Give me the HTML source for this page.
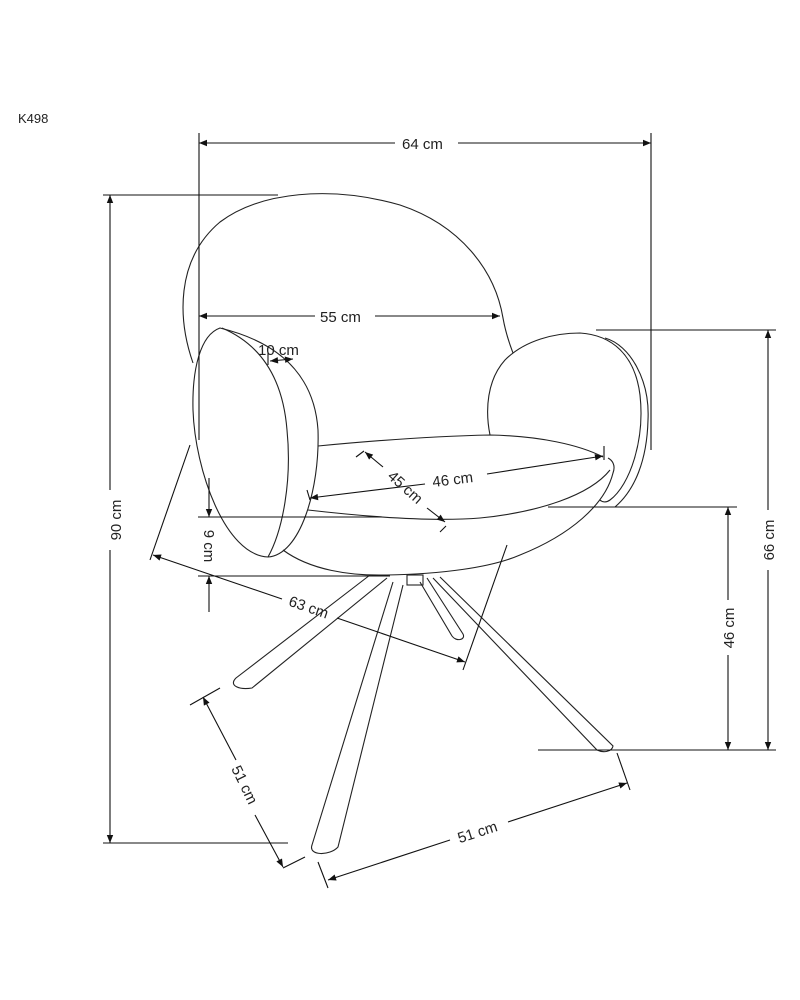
<!DOCTYPE html>
<html><head><meta charset="utf-8"><style>
html,body{margin:0;padding:0;background:#fff;}
svg{display:block;}
text{font-family:"Liberation Sans",sans-serif;font-size:15px;fill:#222;}
</style></head><body>
<svg width="800" height="1000" viewBox="0 0 800 1000" xmlns="http://www.w3.org/2000/svg">
<defs>
<marker id="a" viewBox="0 0 10 10" refX="10" refY="5" markerWidth="10" markerHeight="8" orient="auto-start-reverse" markerUnits="userSpaceOnUse"><path d="M0,1 L10,5 L0,9 z" fill="#111"/></marker>
</defs>
<g stroke="#222" stroke-width="1.1" fill="none">
<!-- backrest -->
<path d="M193,363 C178,320 175,260 220,222 C260,192 330,185 400,205 C460,225 495,270 503,318 C506,335 510,345 513,353"/>
<!-- left armrest -->
<path d="M220,328 C200,335 192,370 193,410 C195,470 225,555 268,557 C300,555 320,490 318,430 C315,385 290,345 220,328 Z" fill="#fff"/>
<path d="M222,328 C262,345 283,380 287,430 C292,480 283,530 268,557"/>
<!-- seat -->
<path d="M318,446 C380,440 440,436 490,435 C540,436 580,445 603,457"/>
<path d="M308,510 C360,516 430,522 480,518 C540,512 590,495 610,470"/>
<path d="M283,550 C310,570 350,576 387,575 C440,574 490,568 520,555 C570,535 605,505 613,473 C616,465 612,460 608,458"/>
<!-- right armrest -->
<path d="M490,435 C485,410 487,380 505,360 C525,340 555,333 580,333 C612,335 635,355 640,395 C645,440 630,485 610,500 C606,503 602,502 600,500"/>
<path d="M605,338 C630,345 650,380 648,420 C647,460 635,490 615,507"/>
<!-- hub -->
<rect x="407" y="575" width="16" height="10"/>
<!-- legs -->
<path d="M370,575 L236,678 C228,686 240,690 252,688 L387,578"/>
<path d="M393,582 L312,845 C308,856 330,856 338,847 L403,585"/>
<path d="M433,578 L597,750 C603,753 612,752 613,746 L440,577"/>
<path d="M420,582 L452,636 C456,642 466,640 463,634 L427,578"/>
</g>
<g stroke="#111" stroke-width="1.1" fill="none">
<!-- 64 -->
<line x1="199" y1="133" x2="199" y2="440"/><line x1="651" y1="133" x2="651" y2="450"/>
<line x1="199" y1="143" x2="395" y2="143" marker-start="url(#a)"/><line x1="458" y1="143" x2="651" y2="143" marker-end="url(#a)"/>
<!-- 90 -->
<line x1="103" y1="195" x2="278" y2="195"/><line x1="103" y1="843" x2="288" y2="843"/>
<line x1="110" y1="195" x2="110" y2="490" marker-start="url(#a)"/><line x1="110" y1="550" x2="110" y2="843" marker-end="url(#a)"/>
<!-- 55 -->
<line x1="199" y1="316" x2="315" y2="316" marker-start="url(#a)"/><line x1="375" y1="316" x2="500" y2="316" marker-end="url(#a)"/>
<!-- 66 -->
<line x1="596" y1="330" x2="776" y2="330"/><line x1="538" y1="750" x2="776" y2="750"/>
<line x1="768" y1="330" x2="768" y2="510" marker-start="url(#a)"/><line x1="768" y1="570" x2="768" y2="750" marker-end="url(#a)"/>
<!-- 46 -->
<line x1="548" y1="507" x2="737" y2="507"/>
<line x1="728" y1="507" x2="728" y2="600" marker-start="url(#a)"/><line x1="728" y1="655" x2="728" y2="750" marker-end="url(#a)"/>
<!-- 9 -->
<line x1="198" y1="517" x2="382" y2="517"/><line x1="198" y1="576" x2="390" y2="576"/>
<line x1="209" y1="478" x2="209" y2="517" marker-end="url(#a)"/><line x1="209" y1="612" x2="209" y2="576" marker-end="url(#a)"/>
<!-- 63 -->
<line x1="190" y1="445" x2="150" y2="560"/><line x1="507" y1="545" x2="463" y2="670"/>
<line x1="153" y1="555" x2="282" y2="599" marker-start="url(#a)"/><line x1="337" y1="618" x2="465" y2="662" marker-end="url(#a)"/>
<!-- 51 left -->
<line x1="190" y1="705" x2="220" y2="688"/><line x1="283" y1="868" x2="305" y2="857"/>
<line x1="203" y1="697" x2="236" y2="760" marker-start="url(#a)"/><line x1="255" y1="815" x2="283" y2="867" marker-end="url(#a)"/>
<!-- 51 bottom -->
<line x1="318" y1="862" x2="328" y2="888"/><line x1="617" y1="753" x2="630" y2="790"/>
<line x1="328" y1="880" x2="450" y2="840" marker-start="url(#a)"/><line x1="508" y1="822" x2="627" y2="783" marker-end="url(#a)"/>
<!-- 46 seat -->
<line x1="310" y1="498" x2="425" y2="484" marker-start="url(#a)"/><line x1="487" y1="474" x2="603" y2="456" marker-end="url(#a)"/>
<line x1="604" y1="446" x2="604" y2="460"/><line x1="307" y1="490" x2="310" y2="500"/>
<!-- 45 -->
<line x1="365" y1="452" x2="383" y2="467" marker-start="url(#a)"/><line x1="427" y1="508" x2="445" y2="522" marker-end="url(#a)"/>
<line x1="356" y1="457" x2="364" y2="451"/><line x1="440" y1="532" x2="446" y2="526"/>
<!-- 10 -->
<line x1="270" y1="361" x2="293" y2="359" marker-start="url(#a)" marker-end="url(#a)"/>
<line x1="268" y1="352" x2="268" y2="365"/>
</g>
<text x="18" y="123" style="font-size:13px">K498</text>
<text x="402" y="149">64 cm</text>
<text x="320" y="322">55 cm</text>
<text x="258" y="355">10 cm</text>
<text x="432" y="484" transform="rotate(-7 457 477)">46 cm</text>
<text x="385" y="492" transform="rotate(42 405 487)">45 cm</text>
<text transform="translate(121,520) rotate(-90)" text-anchor="middle">90 cm</text>
<text transform="translate(774,540) rotate(-90)" text-anchor="middle">66 cm</text>
<text transform="translate(734,628) rotate(-90)" text-anchor="middle">46 cm</text>
<text transform="translate(204,546) rotate(90)" text-anchor="middle">9 cm</text>
<text transform="translate(307,612) rotate(19)" text-anchor="middle">63 cm</text>
<text transform="translate(240,787) rotate(64)" text-anchor="middle">51 cm</text>
<text transform="translate(479,837) rotate(-18)" text-anchor="middle">51 cm</text>
</svg>
</body></html>
